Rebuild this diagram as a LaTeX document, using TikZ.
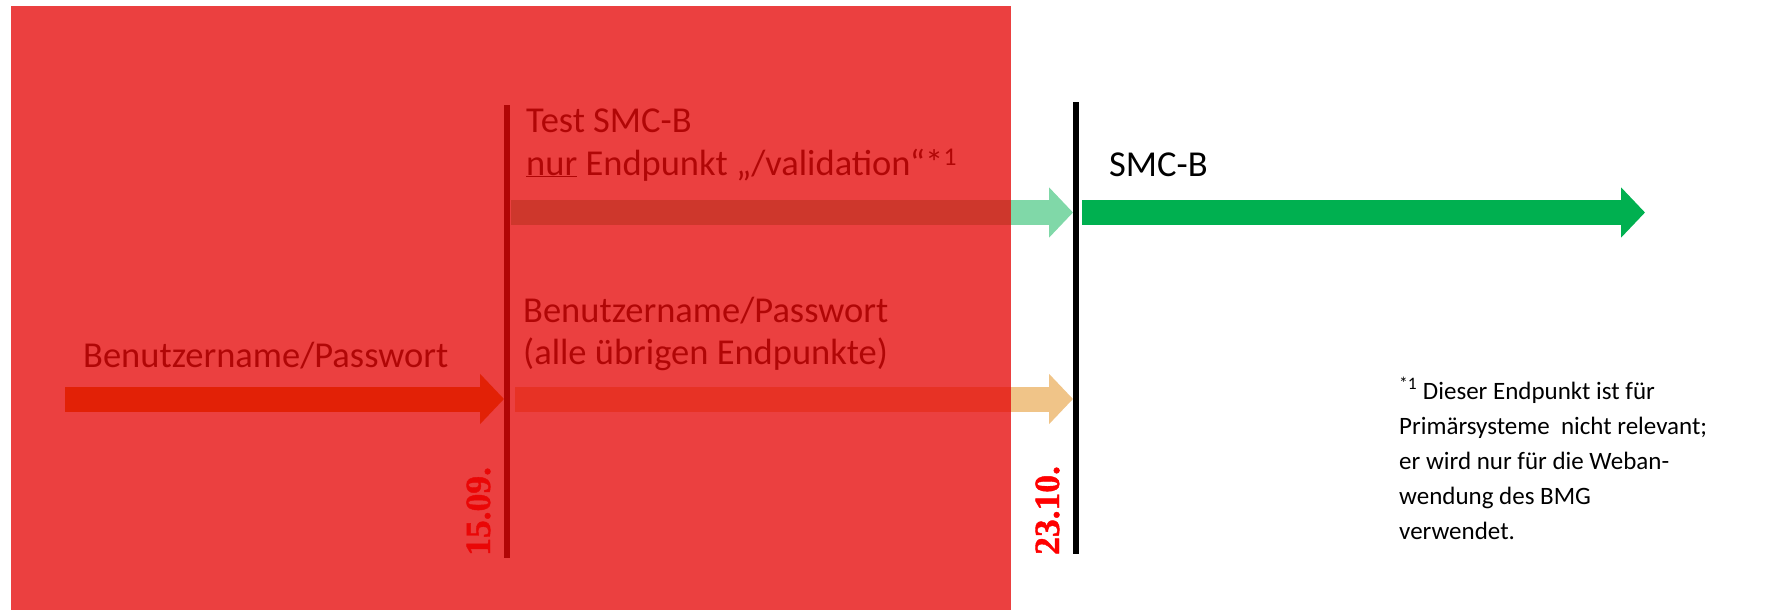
\documentclass[tikz,border=0pt]{standalone}
\usepackage{fontspec}
\setmainfont{Carlito}
\newfontfamily\datefont[BoldFeatures={FakeBold=1.2}]{Liberation Serif}
\usetikzlibrary{arrows.meta}

\definecolor{overlayred}{RGB}{229,9,9}
\definecolor{lightgreen}{RGB}{128,216,168}
\definecolor{solidgreen}{RGB}{0,176,80}
\definecolor{lightorange}{RGB}{240,196,136}
\definecolor{deeporange}{RGB}{220,120,0}
\definecolor{datered}{RGB}{255,0,0}

\begin{document}
\begin{tikzpicture}[x=1pt,y=-1pt,
  blockarrow/.style={line width=25pt, -{Triangle[length=24pt,width=49pt]}},
  lbl/.style={anchor=base west, inner sep=0pt, font=\fontsize{36.5}{43}\selectfont},
  datelbl/.style={anchor=base west, inner sep=0pt, rotate=90, text=datered,
                  font=\datefont\bfseries\fontsize{35.5}{35.5}\selectfont},
  milestone/.style={line width=6pt},
  notetext/.style={anchor=base west, inner sep=0pt, align=left,
                   font=\fontsize{25}{35}\selectfont}
]
\useasboundingbox (0,0) rectangle (1777,610);

% milestone lines
\coordinate (m1top) at (506.5,105);
\coordinate (m1bot) at (506.5,558);
\coordinate (m2top) at (1076,102);
\coordinate (m2bot) at (1076,554);
\draw[milestone] (m1top) -- (m1bot);
\draw[milestone] (m2top) -- (m2bot);

% arrow end points
\coordinate (tA) at (511,212.5);
\coordinate (tB) at (1073,212.5);
\coordinate (gA) at (1082,212.5);
\coordinate (gB) at (1645,212.5);
\coordinate (lA) at (65,399);
\coordinate (lB) at (504,399);
\coordinate (oA) at (515,399);
\coordinate (oB) at (1073,399);

\draw[blockarrow, lightgreen] (tA) -- (tB);
\draw[blockarrow, solidgreen] (gA) -- (gB);
\draw[blockarrow, deeporange] (lA) -- (lB);
\draw[blockarrow, lightorange] (oA) -- (oB);

% phase labels
\node[lbl] (test1) at (526,132) {Test SMC-B};
\node[lbl] (test2) at (526,175) {\underline{nur} Endpunkt „/validation“*\textsuperscript{1}};
\node[lbl] (smcb) at (1109,176) {SMC-B};
\node[lbl] (pw0) at (83,367) {Benutzername/Passwort};
\node[lbl] (pw1) at (523,322) {Benutzername/Passwort};
\node[lbl] (pw2) at (523,364) {(alle übrigen Endpunkte)};

% dates
\node[datelbl] (d1) at (490,556) {15.09.};
\node[datelbl] (d2) at (1059,555) {23.10.};

% footnote (anchored at the baseline of its last line)
\node[notetext] (fn) at (1399,539) {\textsuperscript{*1} Dieser Endpunkt ist für\\
Primärsysteme \ nicht relevant;\\
er wird nur für die Weban-\\
wendung des BMG\\
verwendet.};

% translucent red overlay over the past period
\fill[overlayred, fill opacity=0.776] (11,6) rectangle (1011,610);
\end{tikzpicture}
\end{document}
